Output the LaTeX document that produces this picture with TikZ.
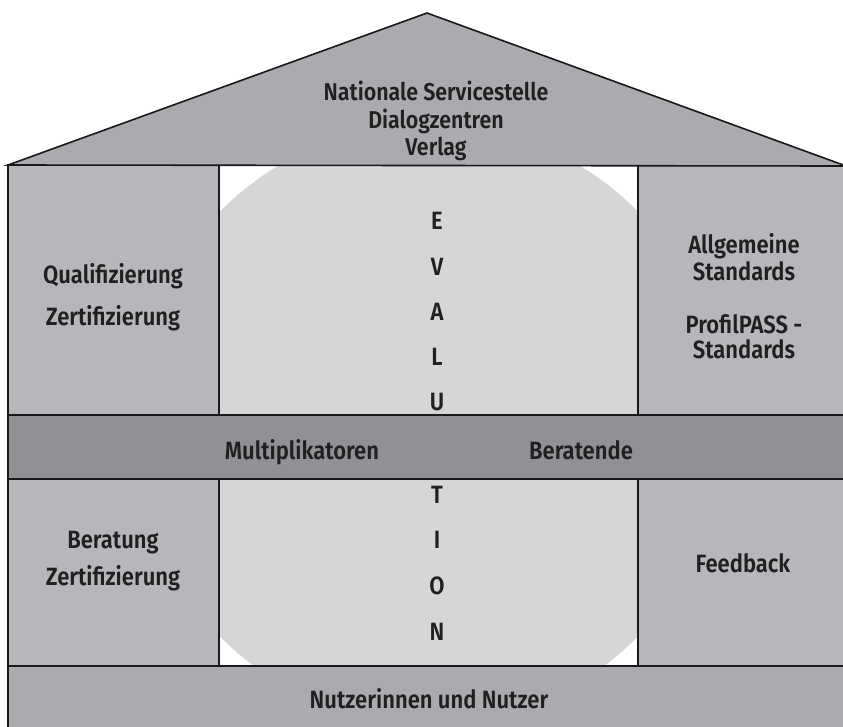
\documentclass[tikz,border=0pt]{standalone}
\usepackage{fontspec}
\setmainfont{Fira Sans}
\newfontfamily\lblfont{Fira Sans SemiBold}[FakeStretch=0.88]
\definecolor{roofgray}{RGB}{170,171,174}
\definecolor{colgray}{RGB}{181,183,186}
\definecolor{circgray}{RGB}{213,214,216}
\definecolor{bandgray}{RGB}{143,145,149}
\definecolor{ink}{RGB}{35,31,32}
\definecolor{edge}{RGB}{25,25,25}
\begin{document}
\begin{tikzpicture}[x=1pt,y=-1pt,
  part/.style={draw=edge,line width=1.6pt,line join=miter},
  lbl/.style={anchor=base,inner sep=0pt,text=ink,font=\fontsize{25}{27}\lblfont},
  rooflbl/.style={lbl,font=\fontsize{24.3}{27}\lblfont},
  letter/.style={lbl,font=\fontsize{25}{27}\lblfont}]
\useasboundingbox (0,0) rectangle (843,726);
\fill[white] (0,0) rectangle (843,726);
% evaluation circle behind the centre
\begin{scope}
  \clip (219,165) rectangle (638,666);
  \fill[circgray] (429,424) ellipse [x radius=296, y radius=300];
\end{scope}
\begin{scope}
\clip (0,0) rectangle (843,726);
% columns
\path[part,fill=colgray] (8,165) rectangle (219,415);
\path[part,fill=colgray] (638,165) rectangle (846,415);
\path[part,fill=colgray] (8,479) rectangle (219,666);
\path[part,fill=colgray] (638,479) rectangle (846,666);
\draw[part] (219,165) -- (219,666);
\draw[part] (638,165) -- (638,666);
% middle band
\path[part,fill=bandgray] (8,415) rectangle (846,479);
% floor
\path[part,fill=roofgray] (8,666) rectangle (846,730);
% roof
\path[part,fill=roofgray] (8,165) -- (427,13) -- (846,166) -- cycle;
\end{scope}
% roof texts
\node[rooflbl] (r1) at (436,100) {Nationale Servicestelle};
\node[rooflbl] (r2) at (436,128) {Dialogzentren};
\node[rooflbl] (r3) at (436,155) {Verlag};
% left upper
\node[lbl] (q1) at (113,283) {Qualifizierung};
\node[lbl] (q2) at (113,325) {Zertifizierung};
% right upper
\node[lbl] (s1) at (744,253) {Allgemeine};
\node[lbl] (s2) at (744,280) {Standards};
\node[lbl] (s3) at (744,333) {ProfilPASS -};
\node[lbl] (s4) at (744,358) {Standards};
% band
\node[lbl] (m1) at (302,459) {Multiplikatoren};
\node[lbl] (m2) at (581,459) {Beratende};
% left lower
\node[lbl] (b1) at (113,548) {Beratung};
\node[lbl] (b2) at (113,585) {Zertifizierung};
% right lower
\node[lbl] (f1) at (743,572) {Feedback};
% floor
\node[lbl] (n1) at (429,708) {Nutzerinnen und Nutzer};
% EVALUATION
\node[letter] (e1) at (437,229) {E};
\node[letter] (e2) at (437,275) {V};
\node[letter] (e3) at (437,320) {A};
\node[letter] (e4) at (437,365) {L};
\node[letter] (e5) at (437,410) {U};
\node[letter] (e6) at (437,503) {T};
\node[letter] (e7) at (437,548) {I};
\node[letter] (e8) at (437,594) {O};
\node[letter] (e9) at (437,640) {N};
\end{tikzpicture}
\end{document}
